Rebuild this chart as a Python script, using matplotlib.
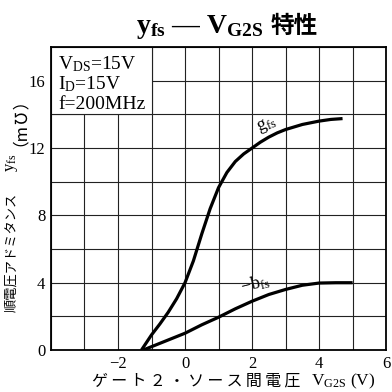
import matplotlib
matplotlib.use("Agg")
import matplotlib.pyplot as plt
from matplotlib.patches import Rectangle
import numpy as np

plt.rcParams['mathtext.fontset'] = 'custom'
plt.rcParams['mathtext.rm'] = 'Liberation Serif'
plt.rcParams['mathtext.it'] = 'Liberation Serif:italic'
plt.rcParams['mathtext.bf'] = 'Liberation Serif:bold'

# gate-2 voltage (V) vs forward transfer admittance (mS)
vg_g = [-1.3, -1.15, -1.0, -0.75, -0.5, -0.25, 0.0, 0.25, 0.5, 0.75, 1.0, 1.25,
        1.5, 1.75, 2.0, 2.25, 2.5, 2.75, 3.0, 3.5, 4.0, 4.35, 4.7]
gfs = [0.0, 0.45, 0.9, 1.55, 2.25, 3.05, 4.0, 5.3, 6.9, 8.4, 9.65, 10.55,
       11.2, 11.65, 12.0, 12.35, 12.65, 12.9, 13.1, 13.4, 13.6, 13.7, 13.75]

vg_b = [-1.25, -1.0, -0.5, 0.0, 0.5, 1.0, 1.5, 2.0, 2.5, 3.0, 3.5, 4.0, 4.5, 5.0]
bfs = [0.0, 0.2, 0.6, 1.0, 1.5, 1.95, 2.45, 2.9, 3.3, 3.6, 3.85, 3.98, 4.0, 4.0]

xgrid = np.arange(-4, 7, 1)
ygrid = np.arange(0, 19, 2)
xlabels = ['', '', '\u22122', '', '0', '', '2', '', '4', '', '6']
ylabels = ['0', '', '4', '', '8', '', '12', '', '16', '']

serif = ['Liberation Serif', 'DejaVu Serif']
jp = ['Noto Sans CJK JP', 'DejaVu Sans']

fig = plt.figure(figsize=(3.92, 3.92), dpi=100)
ax = fig.add_axes([0.130, 0.107, 0.855, 0.773])

ax.set_xlim(-4, 6)
ax.set_ylim(0, 18)
ax.set_xticks(xgrid)
ax.set_yticks(ygrid)
ax.set_xticklabels(xlabels, fontfamily=serif, fontsize=12)
ax.set_yticklabels(ylabels, fontfamily=serif, fontsize=12)
ax.grid(True, color='#222222', lw=0.8)
ax.tick_params(length=0)
ax.tick_params(axis='x', pad=4)
ax.tick_params(axis='y', pad=4)
for s in ax.spines.values():
    s.set_linewidth(1.3)
ax.set_axisbelow(True)

ax.plot(vg_g, gfs, color='black', lw=2.3, solid_capstyle='butt', zorder=3)
ax.plot(vg_b, bfs, color='black', lw=2.3, solid_capstyle='butt', zorder=3)

ax.text(2.45, 13.35, r'$\mathrm{g_{fs}}$', fontsize=13, rotation=22,
        ha='center', va='center', zorder=4)
ax.text(2.1, 3.95, r'$\mathrm{-b_{fs}}$', fontsize=13, rotation=14,
        ha='center', va='center', zorder=4)

# condition box in the upper left corner
ax.add_patch(Rectangle((-4, 14), 3, 4, facecolor='white', edgecolor='#222222',
                       lw=0.8, zorder=2))
cond = [r'$\mathrm{V_{DS}}$=15V', r'$\mathrm{I_{D}}$=15V', 'f=200MHz']
for i, s in enumerate(cond):
    ax.text(-3.78, 17.0 - i * 1.2, s, fontfamily=serif, fontsize=14,
            ha='left', va='center', zorder=4)

# title: symbols in bold serif, the kanji part in CJK font
fig.text(0.673, 0.916, r'$\mathbf{y_{fs}}$ — $\mathbf{V_{G2S}}$',
         fontfamily=serif, fontweight='bold', fontsize=20,
         ha='right', va='baseline')
fig.text(0.690, 0.916, '特性', fontfamily=jp, fontweight='bold', fontsize=17,
         ha='left', va='baseline')

# y label
fig.text(0.03, (392 - 312) / 392, '順電圧アドミタンス', fontfamily=jp,
         fontsize=9.5, rotation=90, ha='center', va='bottom')
fig.text(0.03, (392 - 172) / 392, r'$\mathrm{y_{fs}}$', fontfamily=serif,
         fontsize=12, rotation=90, ha='center', va='bottom')
fig.text(0.03, (392 - 146) / 392, '（m\u2127）', fontfamily=jp,
         fontsize=12, rotation=90, ha='center', va='bottom')

# x label, spaced out with thin spaces
fig.text(92 / 392, 0.027, '\u2009'.join('ゲート２・ソース間電圧'), fontfamily=jp,
         fontsize=11.5, ha='left', va='center')
fig.text(311 / 392, 0.027, r'$\mathrm{V_{G2S}}$ (V)', fontfamily=serif,
         fontsize=12.5, ha='left', va='center')

fig.savefig('out.png', dpi=100, facecolor='white')
